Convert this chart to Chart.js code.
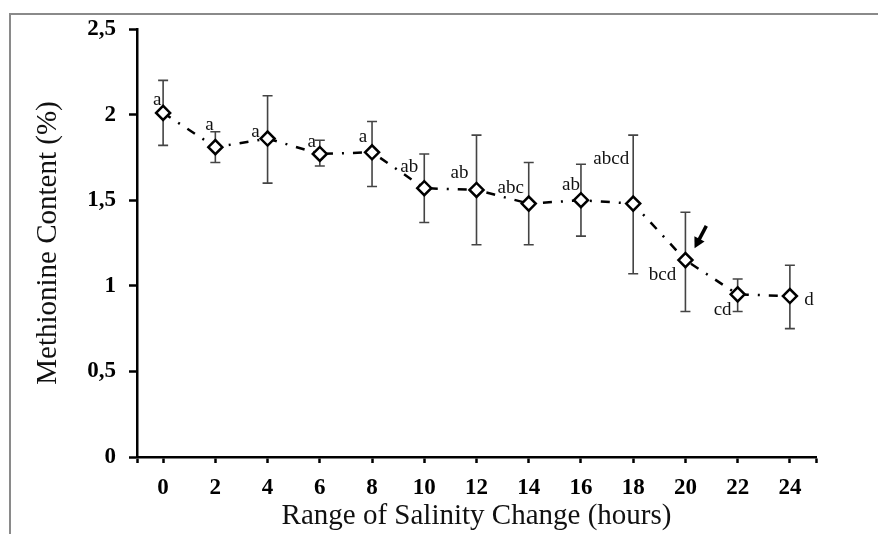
<!DOCTYPE html>
<html>
<head>
<meta charset="utf-8">
<script src="https://cdn.jsdelivr.net/npm/chart.js@4"></script>
<style>
  html, body { margin: 0; padding: 0; background: #fff; }
  #wrap { position: relative; width: 878px; height: 534px; }
  #frame { position: absolute; left: 9px; top: 13px; right: 0; bottom: 0;
           border-left: 2px solid #8a8a8a; border-top: 2px solid #8a8a8a; }
  canvas { position: absolute; left: 0; top: 0; }
</style>
</head>
<body>
<div id="wrap">
  <div id="frame"></div>
  <canvas id="chart" width="878" height="534"></canvas>
</div>
<script>
const horas = [0, 2, 4, 6, 8, 10, 12, 14, 16, 18, 20, 22, 24];
const metionina = [2.01, 1.81, 1.86, 1.77, 1.78, 1.57, 1.56, 1.48, 1.50, 1.48, 1.15, 0.95, 0.94];
const errorArriba = [2.20, 1.90, 2.11, 1.85, 1.96, 1.77, 1.88, 1.72, 1.71, 1.88, 1.43, 1.04, 1.12];
const errorAbajo = [1.82, 1.72, 1.60, 1.70, 1.58, 1.37, 1.24, 1.24, 1.29, 1.07, 0.85, 0.85, 0.75];
const letras = ['a', 'a', 'a', 'a', 'a', 'ab', 'ab', 'abc', 'ab', 'abcd', 'bcd', 'cd', 'd'];
const ticksY = ['0', '0,5', '1', '1,5', '2', '2,5'];

// desplazamiento de cada letra respecto al marcador (px)
const posLetras = [[-6, -13], [-6, -22], [-12, -7], [-8, -12], [-9, -15], [-15, -21], [-17, -17],
  [-18, -16], [-10, -15], [-22, -45], [-23, 15], [-15, 16], [19, 4]];

const serif = '"Liberation Serif", "DejaVu Serif", serif';

const extras = {
  id: 'extras',
  beforeDatasetsDraw(chart) {
    const {ctx, scales: {x, y}} = chart;
    ctx.save();
    ctx.strokeStyle = '#444';
    ctx.lineWidth = 1.6;
    horas.forEach((h, i) => {
      const px = x.getPixelForValue(h);
      const top = y.getPixelForValue(errorArriba[i]);
      const bot = y.getPixelForValue(errorAbajo[i]);
      ctx.beginPath();
      ctx.moveTo(px, top); ctx.lineTo(px, bot);
      ctx.moveTo(px - 5, top); ctx.lineTo(px + 5, top);
      ctx.moveTo(px - 5, bot); ctx.lineTo(px + 5, bot);
      ctx.stroke();
    });
    ctx.restore();
  },
  afterDatasetsDraw(chart) {
    const {ctx, scales: {x, y}} = chart;
    ctx.save();
    ctx.fillStyle = '#111';
    ctx.font = '19px ' + serif;
    ctx.textAlign = 'center';
    ctx.textBaseline = 'middle';
    horas.forEach((h, i) => {
      const px = x.getPixelForValue(h) + posLetras[i][0];
      const py = y.getPixelForValue(metionina[i]) + posLetras[i][1];
      ctx.fillText(letras[i], px, py);
    });
    // flecha junto al punto de 20 h
    const x0 = x.getPixelForValue(20.8), y0 = y.getPixelForValue(1.35);
    const x1 = x.getPixelForValue(20.35), y1 = y.getPixelForValue(1.22);
    const ang = Math.atan2(y1 - y0, x1 - x0);
    ctx.strokeStyle = '#000';
    ctx.lineWidth = 3.5;
    ctx.beginPath(); ctx.moveTo(x0, y0); ctx.lineTo(x1 - 6 * Math.cos(ang), y1 - 6 * Math.sin(ang)); ctx.stroke();
    ctx.fillStyle = '#000';
    ctx.beginPath();
    ctx.moveTo(x1, y1);
    ctx.lineTo(x1 - 12 * Math.cos(ang - 0.5), y1 - 12 * Math.sin(ang - 0.5));
    ctx.lineTo(x1 - 12 * Math.cos(ang + 0.5), y1 - 12 * Math.sin(ang + 0.5));
    ctx.closePath(); ctx.fill();
    ctx.restore();
  }
};

new Chart(document.getElementById('chart'), {
  type: 'scatter',
  data: {
    datasets: [{
      data: horas.map((h, i) => ({x: h, y: metionina[i]})),
      showLine: true,
      borderColor: '#000',
      borderWidth: 2.5,
      borderDash: [9, 9, 2, 9],
      pointStyle: 'rectRot',
      pointRadius: 7,
      pointBackgroundColor: '#fff',
      pointBorderColor: '#000',
      pointBorderWidth: 2.5
    }]
  },
  options: {
    responsive: false,
    animation: false,
    layout: {padding: {left: 0, right: 62, top: 29, bottom: 0}},
    plugins: {legend: {display: false}, tooltip: {enabled: false}},
    scales: {
      x: {
        type: 'linear', min: -1, max: 25,
        afterBuildTicks: s => { s.ticks = [-1].concat(horas, [25]).map(v => ({value: v})); },
        afterFit: s => { s.height = 77; },
        border: {display: true, color: '#000', width: 2.5},
        grid: {display: true, drawOnChartArea: false, drawTicks: true, tickLength: 6, tickWidth: 2.5, tickColor: '#000'},
        ticks: {
          color: '#000', padding: 11, maxRotation: 0, autoSkip: false,
          font: {family: serif, size: 23, weight: 'bold'},
          callback: v => (v < 0 || v > 24) ? '' : String(v)
        },
        title: {display: true, text: 'Range of Salinity Change (hours)', color: '#111',
          font: {family: serif, size: 29}, padding: {top: 0, bottom: 0}}
      },
      y: {
        min: 0, max: 2.5,
        afterBuildTicks: s => { s.ticks = ticksY.map((t, i) => ({value: i * 0.5})); },
        afterFit: s => { s.width = 137; },
        border: {display: true, color: '#000', width: 2.5},
        grid: {display: true, drawOnChartArea: false, drawTicks: true, tickLength: 8, tickWidth: 2.5, tickColor: '#000'},
        ticks: {
          color: '#000', padding: 13,
          font: {family: serif, size: 23, weight: 'bold'},
          callback: (v, i) => ticksY[i]
        },
        title: {display: true, text: 'Methionine Content (%)', color: '#111',
          font: {family: serif, size: 29}, padding: {top: 31, bottom: 0}}
      }
    }
  },
  plugins: [extras]
});
</script>
</body>
</html>
